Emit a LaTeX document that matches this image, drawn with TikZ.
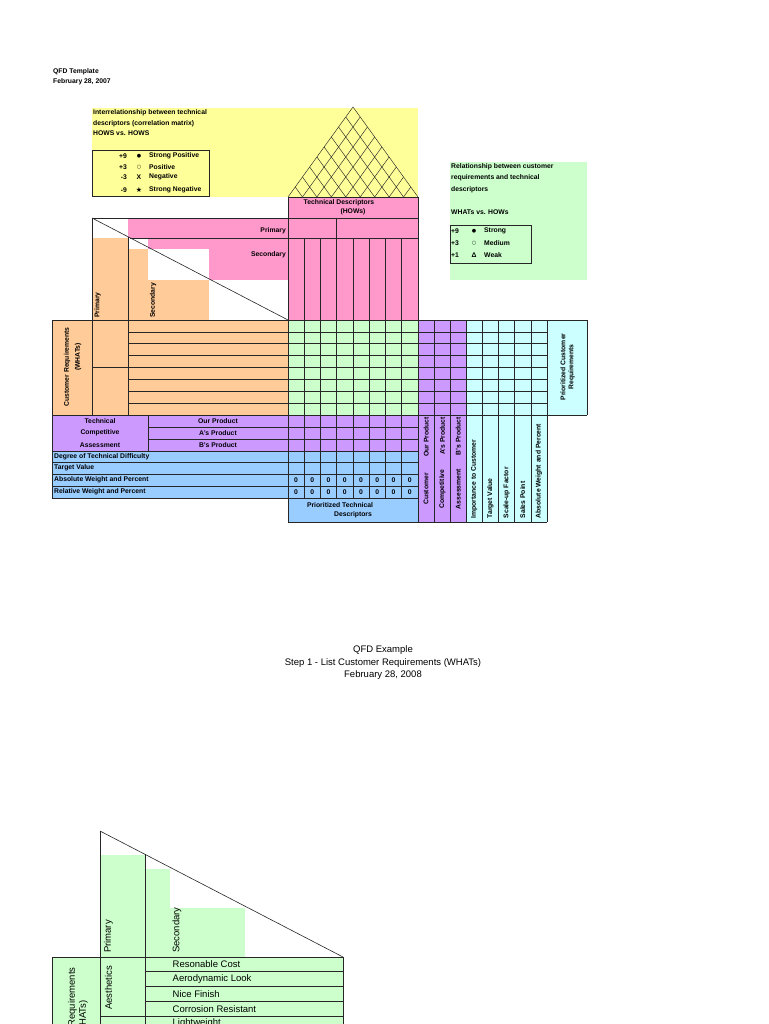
\documentclass[tikz,border=0pt]{standalone}
\usepackage{fontspec}
\setmainfont{Liberation Sans}
\newfontfamily\qfdsym{DejaVu Sans}
\definecolor{qyellow}{HTML}{FFFF99}
\definecolor{qpink}{HTML}{FF99CC}
\definecolor{qorange}{HTML}{FFCC99}
\definecolor{qgreen}{HTML}{CCFFCC}
\definecolor{qpurple}{HTML}{CC99FF}
\definecolor{qcyan}{HTML}{CCFFFF}
\definecolor{qblue}{HTML}{99CCFF}
\newcommand\qfdsmall{\fontsize{6.8}{8}\selectfont\bfseries}
\newcommand\qfdbig{\fontsize{9.5}{11}\selectfont}
\begin{document}
\begin{tikzpicture}[x=1pt,y=-1pt,
  ln/.style={draw=black!85, line width=0.6pt},
  thin ln/.style={draw=black!85, line width=0.45pt},
  txt/.style={inner sep=0pt, font=\qfdsmall},
  bigtxt/.style={inner sep=0pt, font=\qfdbig},
  sym/.style={inner sep=0pt, font=\qfdsym\fontsize{5}{6}\selectfont}]
\fill[white] (0,0) rectangle (768,1024);
\useasboundingbox (0,0) rectangle (768,1024);
\begin{scope}
\clip (0,0) rectangle (768,1024);

% ---------- header ----------
\node[txt, anchor=west] (hdr1) at (53,72) {QFD Template};
\node[txt, anchor=west] (hdr2) at (53,82) {February 28, 2007};

% ---------- fills (top diagram) ----------
\fill[qyellow] (92,108) rectangle (418,197);
\fill[qgreen] (450,162) rectangle (587,280);
\fill[qpink] (288,197) rectangle (418,218);
\fill[qpink] (128,218) rectangle (418,238);
\fill[qpink] (148,238) rectangle (418,249);
\fill[qpink] (209,249) rectangle (418,280);
\fill[qpink] (288,280) rectangle (418,320);
\fill[qorange] (92,238) rectangle (128,320);
\fill[qorange] (128,249) rectangle (148,320);
\fill[qorange] (148,280) rectangle (209,320);
\fill[qorange] (52,320) rectangle (288,415);
\fill[qgreen] (288,320) rectangle (418,415);
\fill[qpurple] (418,320) rectangle (466,522);
\fill[qcyan] (466,320) rectangle (587,415);
\fill[qcyan] (466,415) rectangle (547,522);
\fill[qpurple] (52,415) rectangle (418,451);
\fill[qblue] (52,451) rectangle (418,498);
\fill[qblue] (288,498) rectangle (418,522);

% ---------- roof ----------
\foreach \i in {1,...,8}{
  \draw[thin ln] ({288+\i*130/9},197) -- ({288+\i*65/9},{197-\i*10});
  \draw[thin ln] ({288+\i*130/9},197) -- ({418-(9-\i)*65/9},{197-(9-\i)*10});
}
\draw[thin ln] (288,197) -- (353,107) -- (418,197);

% ---------- legends ----------
\draw[ln] (92,150) rectangle (209,196);
\draw[ln] (450,225) rectangle (531,263);

% ---------- grid lines ----------
\draw[ln] (288,197) -- (418,197);
\draw[ln] (92,218) -- (418,218);
\draw[ln] (92,218) -- (288,320);
\draw[ln] (92,218) -- (92,415);
\draw[ln] (128,236.7) -- (128,415);
\draw[ln] (130.4,238) -- (418,238);
\draw[ln] (288,197) -- (288,522);
\draw[ln] (418,197) -- (418,522);
\draw[ln] (336.75,218) -- (336.75,238);
\foreach \k in {1,...,7}
  \draw[ln] ({288+\k*16.25},238) -- ({288+\k*16.25},498);
\draw[ln] (52,320) -- (587,320);
\draw[ln] (52,415) -- (587,415);
\foreach \j in {1,2,3,5,6,7}
  \draw[ln] (128,{320+\j*11.875}) -- (547,{320+\j*11.875});
\draw[ln] (92,367.5) -- (547,367.5);
\draw[ln] (434.25,320) -- (434.25,522);
\draw[ln] (450.5,320) -- (450.5,522);
\draw[ln] (466,320) -- (466,522);
\foreach \k in {1,...,4}
  \draw[ln] ({466+\k*16.2},320) -- ({466+\k*16.2},522);
\draw[ln] (547,320) -- (547,522);
\draw[ln] (587,320) -- (587,415);
\draw[ln] (52,320) -- (52,498);
\draw[ln] (148,415) -- (148,451);
\draw[ln] (148,427) -- (418,427);
\draw[ln] (148,439) -- (418,439);
\foreach \y in {451,462.5,474,486,498}
  \draw[ln] (52,\y) -- (418,\y);
\draw[ln] (288,522) -- (547,522);

% ---------- texts (top diagram) ----------
\node[txt, anchor=west] (y1) at (93,113) {Interrelationship between technical};
\node[txt, anchor=west] (y2) at (93,123.5) {descriptors (correlation matrix)};
\node[txt, anchor=west] (y3) at (93,133.5) {HOWS vs. HOWS};

\node[txt, anchor=east] (ln1) at (127,156) {+9};
\node[txt, anchor=east] (ln2) at (127,167) {+3};
\node[txt, anchor=east] (ln3) at (127,177) {-3};
\node[txt, anchor=east] (ln4) at (127,190) {-9};
\node[sym] (ls1) at (139,156) {●};
\node[sym] (ls2) at (139,167) {○};
\node[txt] (ls3) at (139,177) {X};
\node[sym, font=\qfdsym\fontsize{7}{8}\selectfont] (ls4) at (139,189.5) {★};
\node[txt, anchor=west] (lt1) at (149,156) {Strong Positive};
\node[txt, anchor=west] (lt2) at (149,167) {Positive};
\node[txt, anchor=west] (lt3) at (149,177) {Negative};
\node[txt, anchor=west] (lt4) at (149,190) {Strong Negative};

\node[txt, anchor=west] (g1) at (451,167) {Relationship between customer};
\node[txt, anchor=west] (g2) at (451,177.5) {requirements and technical};
\node[txt, anchor=west] (g3) at (451,190) {descriptors};
\node[txt, anchor=west] (g4) at (451,212) {WHATs vs. HOWs};
\node[txt, anchor=west] (gn1) at (451,231) {+9};
\node[txt, anchor=west] (gn2) at (451,243) {+3};
\node[txt, anchor=west] (gn3) at (451,255) {+1};
\node[sym] (gs1) at (474,231) {●};
\node[sym] (gs2) at (474,243) {○};
\node[txt] (gs3) at (474,255) {Δ};
\node[txt, anchor=west] (gt1) at (484,231) {Strong};
\node[txt, anchor=west] (gt2) at (484,243) {Medium};
\node[txt, anchor=west] (gt3) at (484,255) {Weak};

\node[txt] (td1) at (339,203) {Technical Descriptors};
\node[txt] (td2) at (353,212) {(HOWs)};
\node[txt, anchor=east] (prim) at (286,231) {Primary};
\node[txt, anchor=east] (secd) at (286,255) {Secondary};
\node[txt, rotate=90, anchor=west] (primv) at (97.5,318) {Primary};
\node[txt, rotate=90, anchor=west] (secv) at (153,318) {Secondary};
\node[txt, rotate=90] (cr1) at (67,367) {Customer Requirements};
\node[txt, rotate=90] (cr2) at (78,357) {(WHATs)};
\node[txt, rotate=90] (pcr1) at (563,367) {Prioritized Customer};
\node[txt, rotate=90] (pcr2) at (571.5,367) {Requirements};

\node[txt] (tca1) at (100,421) {Technical};
\node[txt] (tca2) at (100,433) {Competitive};
\node[txt] (tca3) at (100,445) {Assessment};
\node[txt] (op) at (218,421) {Our Product};
\node[txt] (ap) at (218,433) {A's Product};
\node[txt] (bp) at (218,445) {B's Product};
\node[txt, anchor=west] (r1) at (54,456.7) {Degree of Technical Difficulty};
\node[txt, anchor=west] (r2) at (54,468.2) {Target Value};
\node[txt, anchor=west] (r3) at (54,480) {Absolute Weight and Percent};
\node[txt, anchor=west] (r4) at (54,492) {Relative Weight and Percent};
\foreach \k in {0,...,7}{
  \node[txt] (za\k) at ({296.1+\k*16.25},480) {0};
  \node[txt] (zb\k) at ({296.1+\k*16.25},492) {0};
}
\node[txt] (ptd1) at (340,505) {Prioritized Technical};
\node[txt] (ptd2) at (353,515) {Descriptors};

\node[txt, rotate=90, anchor=east] (cv1) at (426.1,417) {Our Product};
\node[txt, rotate=90, anchor=east] (cv2) at (442.4,417) {A's Product};
\node[txt, rotate=90, anchor=east] (cv3) at (458.3,417) {B's Product};
\node[txt, rotate=90] (cc1) at (426.1,489) {Customer};
\node[txt, rotate=90] (cc2) at (442.4,489) {Competitive};
\node[txt, rotate=90] (cc3) at (458.3,489) {Assessment};
\node[txt, rotate=90, anchor=west] (k1) at (474.1,518.5) {Importance to Customer};
\node[txt, rotate=90, anchor=west] (k2) at (490.3,518.5) {Target Value};
\node[txt, rotate=90, anchor=west] (k3) at (506.5,518.5) {Scale-up Factor};
\node[txt, rotate=90, anchor=west] (k4) at (522.7,518.5) {Sales Point};
\node[txt, rotate=90, anchor=west] (k5) at (538.9,518.5) {Absolute Weight and Percent};

% ---------- QFD example ----------
\node[bigtxt] (ex1) at (383,650.5) {QFD Example};
\node[bigtxt] (ex2) at (383,663) {Step 1 - List Customer Requirements (WHATs)};
\node[bigtxt] (ex3) at (383,675.5) {February 28, 2008};

\fill[qgreen] (100,855) rectangle (145,957);
\fill[qgreen] (145,869) rectangle (170,957);
\fill[qgreen] (170,908) rectangle (245,957);
\fill[qgreen] (52,957) rectangle (343,1040);

\draw[ln] (100,831) -- (343,957);
\draw[ln] (100,831) -- (100,1040);
\draw[ln] (145,854.3) -- (145,1040);
\draw[ln] (52,957) -- (343,957);
\draw[ln] (52,957) -- (52,1040);
\draw[ln] (343,957) -- (343,1040);
\foreach \j in {1,2,3}
  \draw[ln] (145,{957+\j*14.75}) -- (343,{957+\j*14.75});
\draw[ln] (100,1016) -- (343,1016);

\node[bigtxt, rotate=90, anchor=west] (pv) at (108.5,953) {Primary};
\node[bigtxt, rotate=90, anchor=west] (sv) at (177,953) {Secondary};
\node[bigtxt, rotate=90] (aes) at (108.5,988) {Aesthetics};
\node[bigtxt, rotate=90] (crb1) at (72.3,1019) {Customer Requirements};
\node[bigtxt, rotate=90] (crb2) at (83.5,1019) {(WHATs)};
\node[bigtxt, anchor=west] (w1) at (172.5,964.5) {Resonable Cost};
\node[bigtxt, anchor=west] (w2) at (172.5,979.2) {Aerodynamic Look};
\node[bigtxt, anchor=west] (w3) at (172.5,994) {Nice Finish};
\node[bigtxt, anchor=west] (w4) at (172.5,1008.7) {Corrosion Resistant};
\node[bigtxt, anchor=west] (w5) at (172.5,1023.4) {Lightweight};
\end{scope}
\end{tikzpicture}
\end{document}
